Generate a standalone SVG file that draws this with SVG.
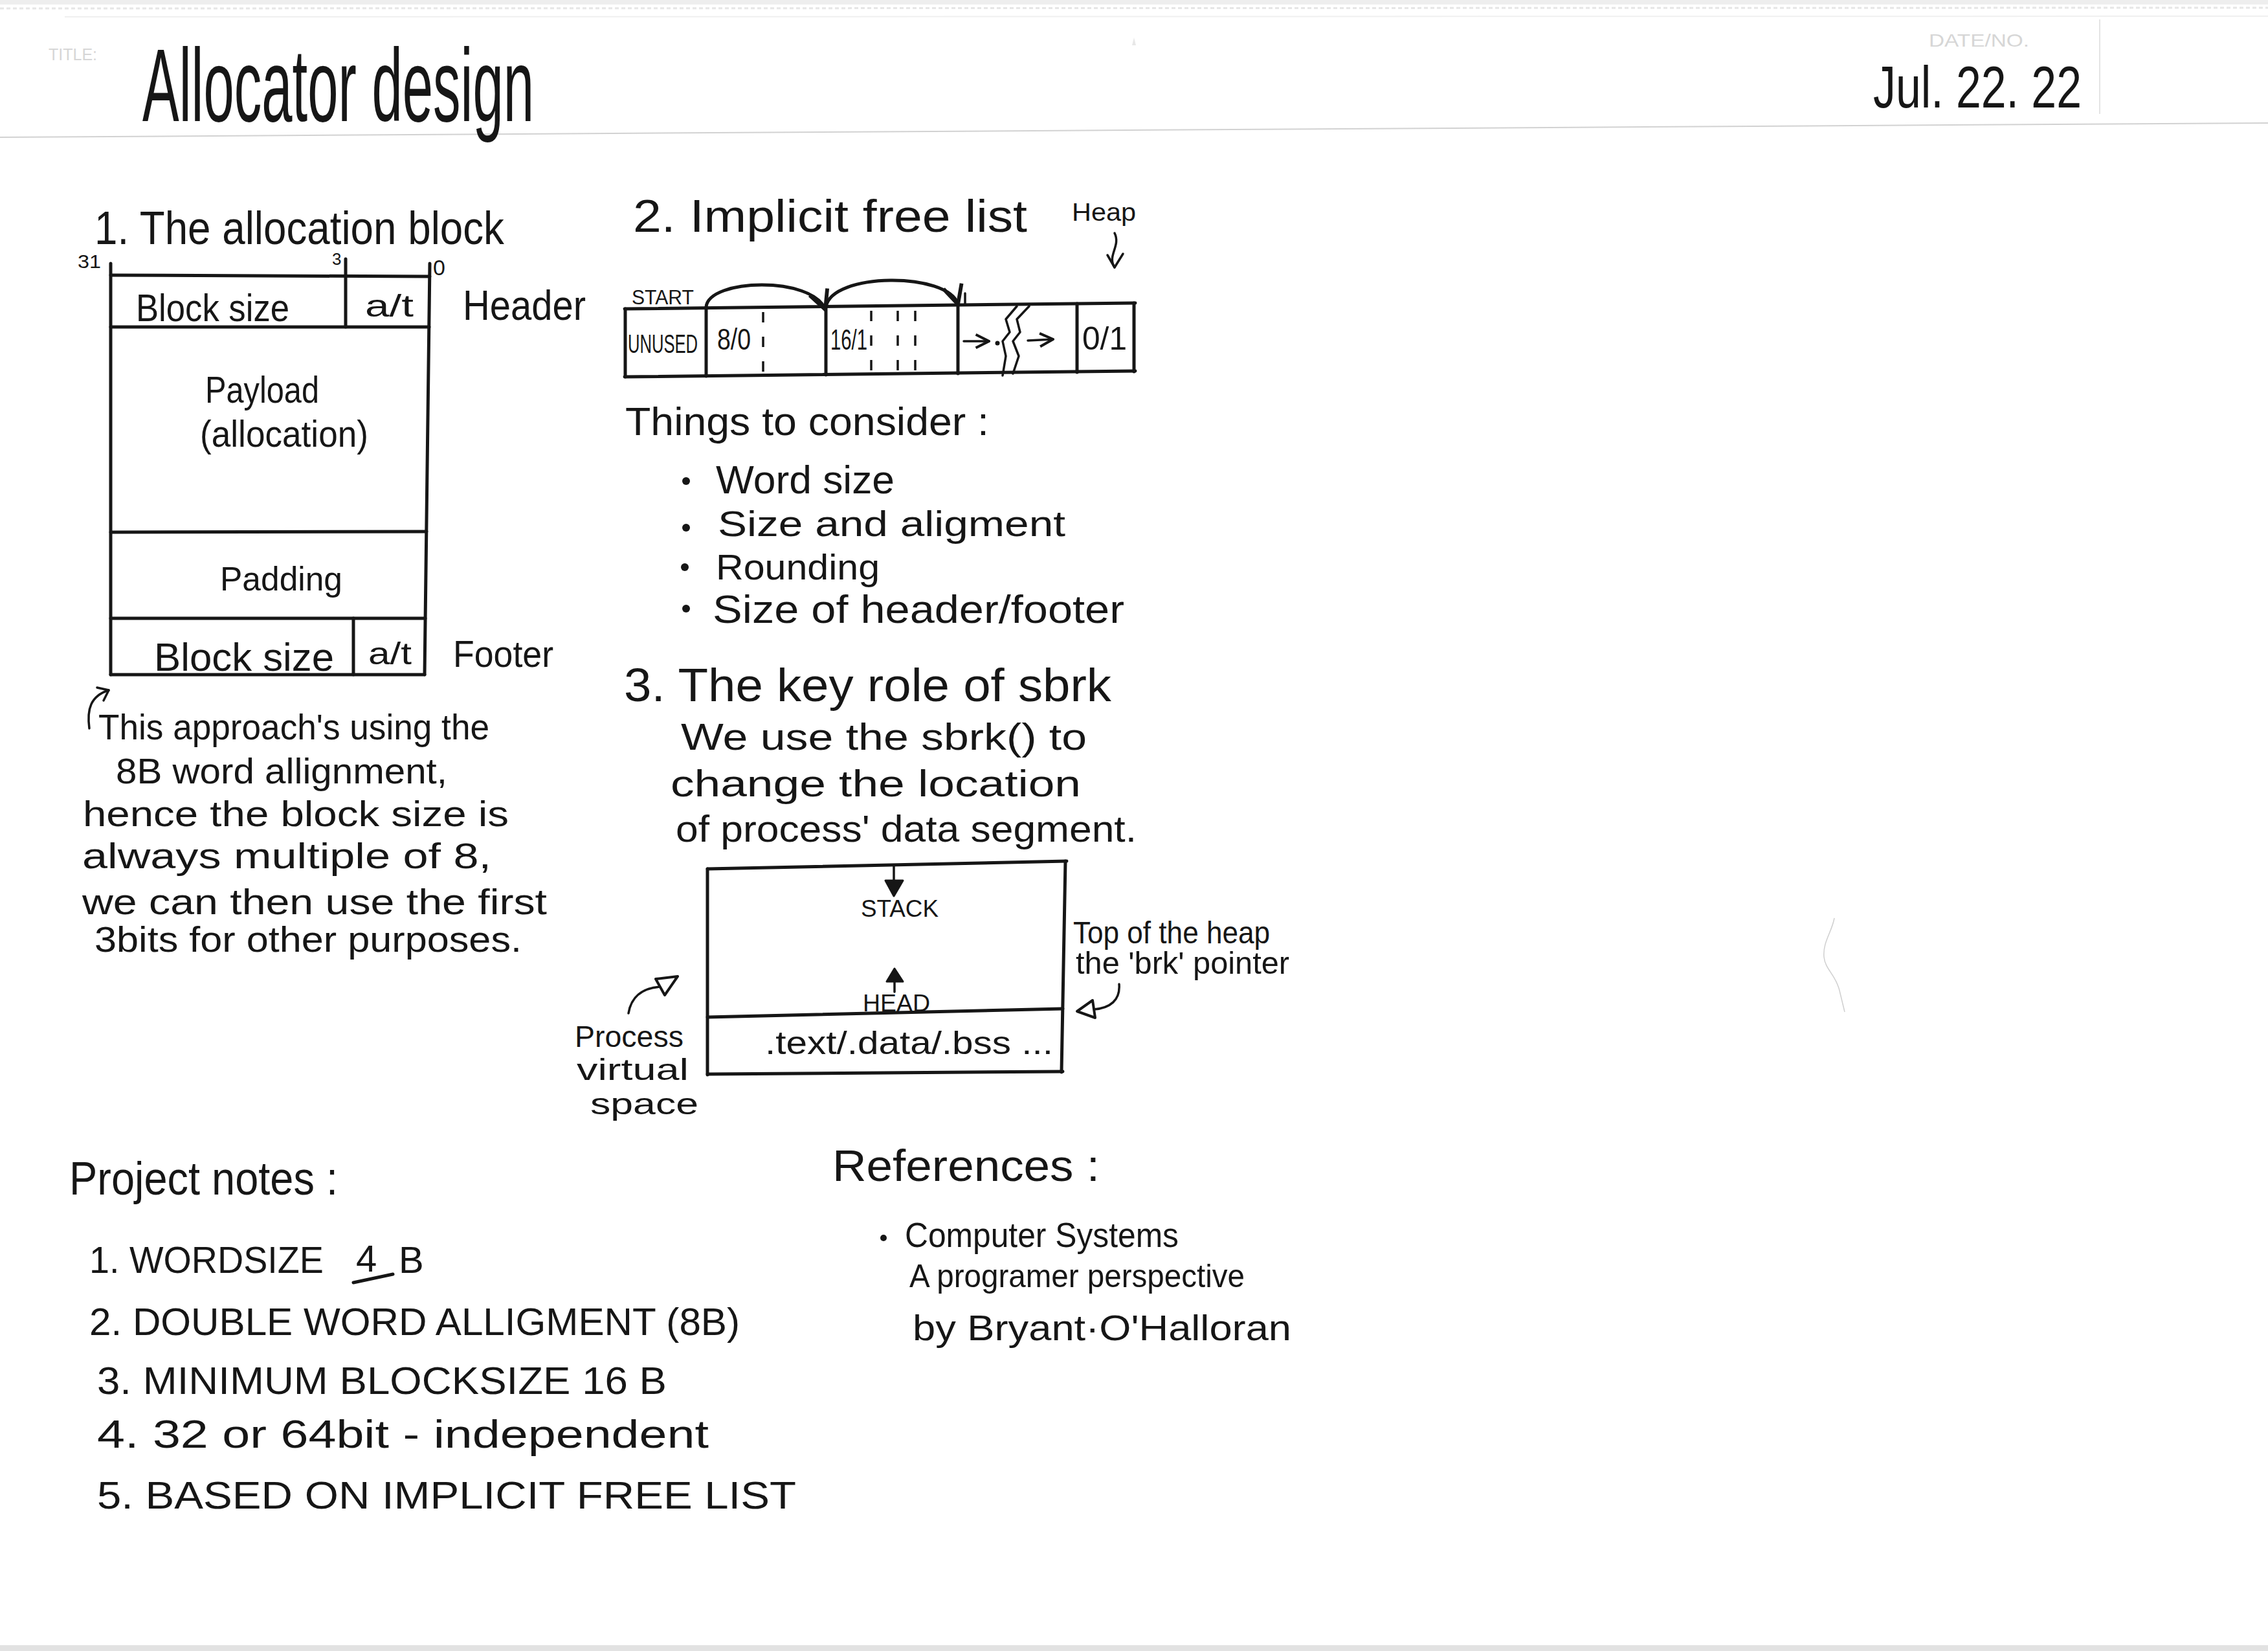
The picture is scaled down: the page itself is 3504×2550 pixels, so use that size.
<svg xmlns="http://www.w3.org/2000/svg" width="3504" height="2550" viewBox="0 0 3504 2550">
  <style>
    .hw { font-family: "Liberation Sans Narrow", "Liberation Sans", Arial, sans-serif; fill: #161616; }
    .print { font-family: "Liberation Sans Narrow", "Liberation Sans", Arial, sans-serif; fill: #d6d6d6; }
    .ink { stroke: #161616; stroke-width: 5; fill: none; stroke-linecap: round; stroke-linejoin: round; }
    .thin { stroke: #161616; stroke-width: 3.5; fill: none; stroke-linecap: round; stroke-linejoin: round; }
    .dash { stroke: #161616; stroke-width: 3.5; fill: none; stroke-dasharray: 16 22; }
    .paper { stroke: #d2d2d2; stroke-width: 2; fill: none; }
    .solid { fill: #161616; stroke: #161616; stroke-width: 3; stroke-linejoin: round; }
    .hollow { fill: #ffffff; stroke: #161616; stroke-width: 4; stroke-linejoin: round; }
  </style>
  <defs>
    <marker id="vhead" viewBox="0 0 12 12" refX="11" refY="6" markerWidth="7" markerHeight="7" orient="auto" markerUnits="strokeWidth">
      <path d="M1,1 L11,6 L1,11" fill="none" stroke="#161616" stroke-width="2" stroke-linejoin="round"/>
    </marker>
  </defs>

  <rect x="0" y="0" width="3504" height="2550" fill="#ffffff"/>

  <!-- printed page furniture -->
  <g id="page">
    <rect x="0" y="0" width="3504" height="7" fill="#eeeeee"/>
    <line x1="0" y1="13" x2="3504" y2="12" stroke="#e6e6e6" stroke-width="3" stroke-dasharray="6 4"/>
    <line x1="100" y1="26" x2="3504" y2="25" stroke="#f0f0f0" stroke-width="2"/>
    <line class="paper" x1="0" y1="212" x2="3504" y2="190"/>
    <line x1="3244" y1="30" x2="3244" y2="176" stroke="#e4e4e4" stroke-width="2"/>
    <path d="M1752,58 L1755,70 L1749,70 Z" fill="#e8e8e8"/>
    <path d="M2834,1418 C2830,1440 2816,1455 2818,1478 C2820,1498 2836,1505 2842,1530 L2850,1563" stroke="#cfcfcf" stroke-width="1.5" fill="none"/>
    <rect x="0" y="2541" width="3504" height="9" fill="#e2e2e2"/>
    <text class="print" x="75" y="93" font-size="25" textLength="75" lengthAdjust="spacingAndGlyphs">TITLE:</text>
    <text class="print" x="2980" y="72" font-size="28" textLength="155" lengthAdjust="spacingAndGlyphs">DATE/NO.</text>
  </g>

  <!-- title and date -->
  <g id="title">
    <text class="hw" x="220" y="187" font-size="160" textLength="605" lengthAdjust="spacingAndGlyphs">Allocator design</text>
    <text class="hw" x="2894" y="166" font-size="90" textLength="322" lengthAdjust="spacingAndGlyphs">Jul. 22. 22</text>
  </g>

  <!-- 1. allocation block layout -->
  <g id="allocation-block">
    <text class="hw" x="146" y="377" font-size="72" textLength="633" lengthAdjust="spacingAndGlyphs">1. The allocation block</text>
    <text class="hw" x="120" y="414" font-size="30" textLength="36" lengthAdjust="spacingAndGlyphs">31</text>
    <text class="hw" x="513" y="409" font-size="26">3</text>
    <text class="hw" x="669" y="425" font-size="34">0</text>
    <line class="ink" x1="171" y1="407" x2="171" y2="1042"/>
    <line class="ink" x1="664" y1="407" x2="656" y2="1042"/>
    <line class="ink" x1="171" y1="425" x2="664" y2="427"/>
    <line class="ink" x1="171" y1="505" x2="663" y2="505"/>
    <line class="ink" x1="534" y1="400" x2="534" y2="505"/>
    <line class="ink" x1="171" y1="822" x2="659" y2="821"/>
    <line class="ink" x1="171" y1="955" x2="657" y2="955"/>
    <line class="ink" x1="546" y1="955" x2="546" y2="1042"/>
    <line class="ink" x1="171" y1="1042" x2="656" y2="1042"/>
    <text class="hw" x="210" y="496" font-size="60" textLength="237" lengthAdjust="spacingAndGlyphs">Block size</text>
    <text class="hw" x="564" y="489" font-size="48" textLength="75" lengthAdjust="spacingAndGlyphs">a/t</text>
    <text class="hw" x="715" y="494" font-size="64" textLength="190" lengthAdjust="spacingAndGlyphs">Header</text>
    <text class="hw" x="317" y="622" font-size="58" textLength="176" lengthAdjust="spacingAndGlyphs">Payload</text>
    <text class="hw" x="309" y="690" font-size="58" textLength="260" lengthAdjust="spacingAndGlyphs">(allocation)</text>
    <text class="hw" x="340" y="912" font-size="52" textLength="189" lengthAdjust="spacingAndGlyphs">Padding</text>
    <text class="hw" x="238" y="1036" font-size="62" textLength="278" lengthAdjust="spacingAndGlyphs">Block size</text>
    <text class="hw" x="569" y="1026" font-size="48" textLength="67" lengthAdjust="spacingAndGlyphs">a/t</text>
    <text class="hw" x="700" y="1030" font-size="58" textLength="155" lengthAdjust="spacingAndGlyphs">Footer</text>
  </g>

  <!-- note on alignment -->
  <g id="alignment-note">
    <text class="hw" x="152" y="1142" font-size="56" textLength="604" lengthAdjust="spacingAndGlyphs">This approach's using the</text>
    <text class="hw" x="179" y="1210" font-size="56" textLength="512" lengthAdjust="spacingAndGlyphs">8B word allignment,</text>
    <text class="hw" x="128" y="1276" font-size="56" textLength="658" lengthAdjust="spacingAndGlyphs">hence the block size is</text>
    <text class="hw" x="127" y="1341" font-size="56" textLength="632" lengthAdjust="spacingAndGlyphs">always multiple of 8,</text>
    <text class="hw" x="127" y="1412" font-size="56" textLength="718" lengthAdjust="spacingAndGlyphs">we can then use the first</text>
    <text class="hw" x="146" y="1470" font-size="56" textLength="660" lengthAdjust="spacingAndGlyphs">3bits for other purposes.</text>
  </g>

  <!-- 2. implicit free list strip -->
  <g id="implicit-free-list">
    <text class="hw" x="978" y="358" font-size="70" textLength="609" lengthAdjust="spacingAndGlyphs">2. Implicit free list</text>
    <text class="hw" x="1656" y="341" font-size="38" textLength="99" lengthAdjust="spacingAndGlyphs">Heap</text>
    <text class="hw" x="976" y="470" font-size="32" textLength="96" lengthAdjust="spacingAndGlyphs">START</text>
    <line class="ink" x1="965" y1="477" x2="1754" y2="468"/>
    <line class="ink" x1="965" y1="582" x2="1754" y2="573"/>
    <line class="ink" x1="966" y1="477" x2="966" y2="582"/>
    <line class="ink" x1="1091" y1="475" x2="1091" y2="581"/>
    <line class="ink" x1="1276" y1="474" x2="1276" y2="579"/>
    <line class="ink" x1="1480" y1="470" x2="1480" y2="577"/>
    <line class="ink" x1="1664" y1="469" x2="1664" y2="575"/>
    <line class="ink" x1="1752" y1="468" x2="1752" y2="574"/>
    <line class="dash" x1="1179" y1="482" x2="1179" y2="575"/>
    <line class="dash" x1="1346" y1="480" x2="1346" y2="574"/>
    <line class="dash" x1="1387" y1="480" x2="1387" y2="574"/>
    <line class="dash" x1="1414" y1="480" x2="1414" y2="574"/>
    <path class="thin" d="M1571,473 L1554,493 L1560,513 L1549,527 L1554,550 L1549,580"/>
    <path class="thin" d="M1590,473 L1571,493 L1576,513 L1565,527 L1574,550 L1565,577"/>
    <text class="hw" transform="translate(970 545) scale(0.64 1)" x="0" y="0" font-size="40">UNUSED</text>
    <text class="hw" x="1108" y="540" font-size="46" textLength="52" lengthAdjust="spacingAndGlyphs">8/0</text>
    <text class="hw" x="1283" y="540" font-size="44" textLength="57" lengthAdjust="spacingAndGlyphs">16/1</text>
    <text class="hw" x="1672" y="540" font-size="50" textLength="69" lengthAdjust="spacingAndGlyphs">0/1</text>
    <circle cx="1541" cy="530" r="3.5" fill="#161616"/>
  </g>

  <!-- things to consider -->
  <g id="considerations">
    <text class="hw" x="966" y="672" font-size="62" textLength="562" lengthAdjust="spacingAndGlyphs">Things to consider :</text>
    <circle cx="1060" cy="743" r="6" fill="#161616"/>
    <circle cx="1060" cy="815" r="6" fill="#161616"/>
    <circle cx="1058" cy="876" r="6" fill="#161616"/>
    <circle cx="1060" cy="940" r="6" fill="#161616"/>
    <text class="hw" x="1106" y="762" font-size="62" textLength="276" lengthAdjust="spacingAndGlyphs">Word size</text>
    <text class="hw" x="1109" y="828" font-size="56" textLength="537" lengthAdjust="spacingAndGlyphs">Size and aligment</text>
    <text class="hw" x="1106" y="895" font-size="56" textLength="253" lengthAdjust="spacingAndGlyphs">Rounding</text>
    <text class="hw" x="1101" y="962" font-size="62" textLength="636" lengthAdjust="spacingAndGlyphs">Size of header/footer</text>
  </g>

  <!-- 3. sbrk -->
  <g id="sbrk-role">
    <text class="hw" x="964" y="1083" font-size="72" textLength="753" lengthAdjust="spacingAndGlyphs">3. The key role of sbrk</text>
    <text class="hw" x="1052" y="1158" font-size="58" textLength="627" lengthAdjust="spacingAndGlyphs">We use the sbrk() to</text>
    <text class="hw" x="1036" y="1230" font-size="58" textLength="634" lengthAdjust="spacingAndGlyphs">change the location</text>
    <text class="hw" x="1044" y="1300" font-size="58" textLength="712" lengthAdjust="spacingAndGlyphs">of process' data segment.</text>
  </g>

  <!-- process virtual address space -->
  <g id="process-space">
    <line class="ink" x1="1093" y1="1342" x2="1648" y2="1330"/>
    <line class="ink" x1="1093" y1="1342" x2="1093" y2="1660"/>
    <line class="ink" x1="1646" y1="1330" x2="1640" y2="1656"/>
    <line class="ink" x1="1093" y1="1659" x2="1642" y2="1655"/>
    <line class="ink" x1="1093" y1="1571" x2="1642" y2="1558"/>
    <line class="thin" x1="1381" y1="1338" x2="1381" y2="1366"/>
    <path class="solid" d="M1368,1360 L1395,1360 L1381,1384 Z"/>
    <path class="solid" d="M1382,1496 L1370,1516 L1395,1516 Z"/>
    <line class="thin" x1="1382" y1="1514" x2="1382" y2="1532"/>
    <text class="hw" x="1330" y="1416" font-size="36" textLength="120" lengthAdjust="spacingAndGlyphs">STACK</text>
    <text class="hw" x="1333" y="1562" font-size="36" textLength="104" lengthAdjust="spacingAndGlyphs">HEAD</text>
    <text class="hw" x="1182" y="1628" font-size="50" textLength="445" lengthAdjust="spacingAndGlyphs">.text/.data/.bss ...</text>
    <text class="hw" x="1658" y="1457" font-size="48" textLength="304" lengthAdjust="spacingAndGlyphs">Top of the heap</text>
    <text class="hw" x="1662" y="1504" font-size="48" textLength="330" lengthAdjust="spacingAndGlyphs">the 'brk' pointer</text>
    <text class="hw" x="888" y="1617" font-size="46" textLength="168" lengthAdjust="spacingAndGlyphs">Process</text>
    <text class="hw" x="891" y="1668" font-size="46" textLength="173" lengthAdjust="spacingAndGlyphs">virtual</text>
    <text class="hw" x="912" y="1721" font-size="46" textLength="167" lengthAdjust="spacingAndGlyphs">space</text>
  </g>

  <!-- project notes -->
  <g id="project-notes">
    <text class="hw" x="107" y="1845" font-size="72" textLength="415" lengthAdjust="spacingAndGlyphs">Project notes :</text>
    <text class="hw" font-size="58"><tspan x="138" y="1966" textLength="362" lengthAdjust="spacingAndGlyphs">1. WORDSIZE</tspan><tspan x="550" y="1964">4</tspan><tspan x="616" y="1966">B</tspan></text>
    <line class="ink" x1="546" y1="1981" x2="607" y2="1968"/>
    <text class="hw" x="138" y="2062" font-size="60" textLength="1005" lengthAdjust="spacingAndGlyphs">2. DOUBLE WORD ALLIGMENT (8B)</text>
    <text class="hw" x="150" y="2153" font-size="60" textLength="880" lengthAdjust="spacingAndGlyphs">3. MINIMUM BLOCKSIZE 16 B</text>
    <text class="hw" x="150" y="2236" font-size="62" textLength="945" lengthAdjust="spacingAndGlyphs">4. 32 or 64bit - independent</text>
    <text class="hw" x="150" y="2330" font-size="60" textLength="1080" lengthAdjust="spacingAndGlyphs">5. BASED ON IMPLICIT FREE LIST</text>
  </g>

  <!-- references -->
  <g id="references">
    <text class="hw" x="1286" y="1824" font-size="68" textLength="413" lengthAdjust="spacingAndGlyphs">References :</text>
    <circle cx="1365" cy="1912" r="5" fill="#161616"/>
    <text class="hw" x="1398" y="1926" font-size="54" textLength="423" lengthAdjust="spacingAndGlyphs">Computer Systems</text>
    <text class="hw" x="1405" y="1988" font-size="50" textLength="518" lengthAdjust="spacingAndGlyphs">A programer perspective</text>
    <text class="hw" x="1410" y="2070" font-size="56" textLength="585" lengthAdjust="spacingAndGlyphs">by Bryant·O'Halloran</text>
  </g>

  <!-- arrows and links -->
  <g id="connectors">
    <path class="ink" d="M1091,474 C1095,430 1255,426 1275,478" marker-end="url(#vhead)"/>
    <path class="ink" d="M1276,474 C1285,420 1465,420 1480,470" marker-end="url(#vhead)"/>
    <line class="thin" x1="1491" y1="453" x2="1491" y2="470"/>
    <path class="thin" d="M1722,360 C1732,380 1710,395 1722,413"/>
    <path class="thin" d="M1711,394 L1722,413 L1735,392"/>
    <line class="thin" x1="1489" y1="527" x2="1528" y2="527" marker-end="url(#vhead)"/>
    <line class="thin" x1="1588" y1="526" x2="1627" y2="524" marker-end="url(#vhead)"/>
    <path class="thin" d="M138,1125 C134,1095 140,1075 168,1066"/>
    <path class="thin" d="M150,1062 L168,1066 L160,1082"/>
    <path class="thin" d="M1729,1520 C1731,1545 1715,1557 1690,1559"/>
    <path class="hollow" d="M1664,1562 L1688,1545 L1692,1572 Z"/>
    <path class="thin" d="M971,1565 C975,1540 992,1526 1020,1524"/>
    <path class="hollow" d="M1047,1508 L1013,1512 L1027,1537 Z"/>
  </g>
</svg>
